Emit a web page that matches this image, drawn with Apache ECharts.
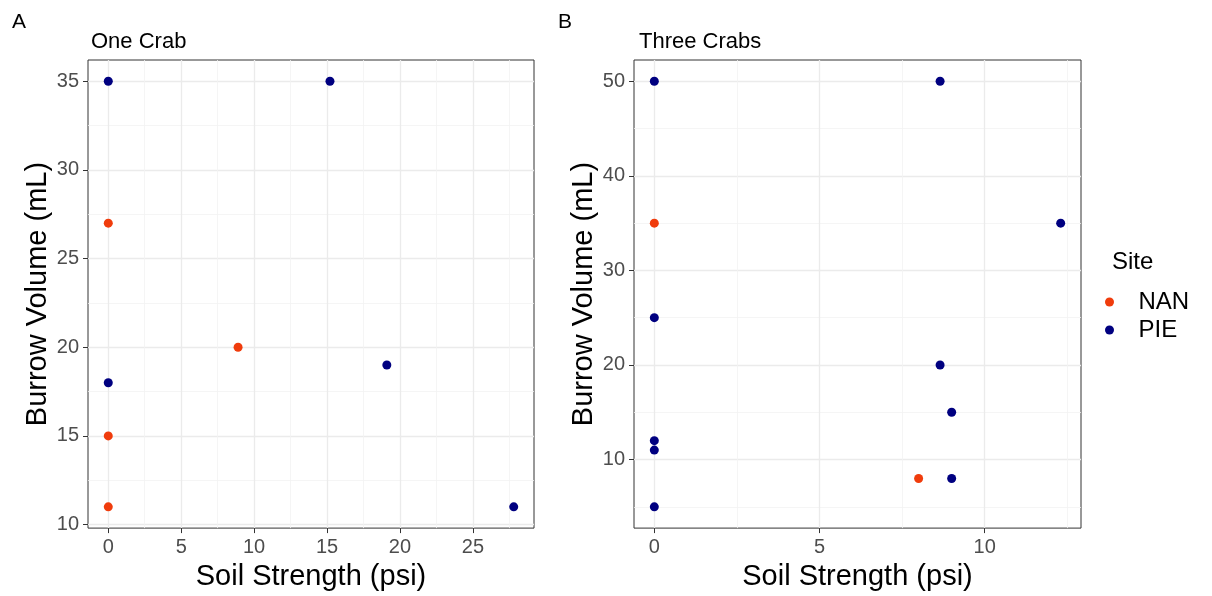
<!DOCTYPE html>
<html lang="en">
<head>
    <meta charset="UTF-8">
    <title>Burrow Volume vs Soil Strength</title>
    <script src="https://cdn.jsdelivr.net/npm/echarts@6.0.0/dist/echarts.min.js"></script>
    <style>
        body {
            margin: 0;
            padding: 0;
            background-color: #ffffff;
        }
        #chart {
            width: 1212px;
            height: 596px;
        }
    </style>
</head>
<body>
<div id="chart"></div>

<script>
    // 数据：One Crab
    const oneNanX = [0, 0, 0, 8.9];
    const oneNanY = [27, 15, 11, 20];
    const onePieX = [0, 15.2, 0, 19.1, 27.8];
    const onePieY = [35, 35, 18, 19, 11];

    // 数据：Three Crabs
    const threeNanX = [0, 8];
    const threeNanY = [35, 8];
    const threePieX = [0, 8.65, 12.3, 0, 8.65, 9, 0, 0, 0, 9];
    const threePieY = [50, 50, 35, 25, 20, 15, 12, 11, 5, 8];

    // 刻度
    const oneXTicks = [0, 5, 10, 15, 20, 25];
    const oneXMinor = [2.5, 7.5, 12.5, 17.5, 22.5, 27.5];
    const oneYTicks = [10, 15, 20, 25, 30, 35];
    const oneYMinor = [12.5, 17.5, 22.5, 27.5, 32.5];
    const threeXTicks = [0, 5, 10];
    const threeXMinor = [2.5, 7.5, 12.5];
    const threeYTicks = [10, 20, 30, 40, 50];
    const threeYMinor = [5, 15, 25, 35, 45];

    const siteNames = ['NAN', 'PIE'];
    const siteColors = ['#f03c0c', '#000080'];

    const FONT = 'Liberation Sans, Arial, sans-serif';

    // ggplot 风格的 5% 扩展
    function expand(values) {
        const lo = Math.min(...values);
        const hi = Math.max(...values);
        const pad = (hi - lo) * 0.05;
        return [lo - pad, hi + pad];
    }

    function zip(xs, ys) {
        return xs.map((x, i) => [x, ys[i]]);
    }

    function majorAxis(grid, range, ticks, name, isY) {
        return {
            type: 'value',
            gridIndex: grid,
            position: isY ? 'left' : 'bottom',
            min: range[0],
            max: range[1],
            name: name,
            nameLocation: 'middle',
            nameGap: isY ? 36 : 33,
            nameTextStyle: { fontSize: 29, color: '#000', fontFamily: FONT },
            axisLine: { show: false, onZero: false },
            axisTick: { show: true, length: 5, customValues: ticks, lineStyle: { color: '#333', width: 1 } },
            axisLabel: { customValues: ticks, fontSize: 20, color: '#4d4d4d', margin: 9, fontFamily: FONT },
            splitLine: { show: true, lineStyle: { color: '#ebebeb', width: 1.3 } }
        };
    }

    function minorAxis(grid, range, ticks, isY) {
        return {
            type: 'value',
            gridIndex: grid,
            position: isY ? 'left' : 'bottom',
            min: range[0],
            max: range[1],
            axisLine: { show: false, onZero: false },
            axisTick: { show: false, customValues: ticks },
            axisLabel: { show: false },
            splitLine: { show: true, lineStyle: { color: '#f2f2f2', width: 0.8 } }
        };
    }

    const oneXRange = expand(oneNanX.concat(onePieX));
    const oneYRange = expand(oneNanY.concat(onePieY));
    const threeXRange = expand(threeNanX.concat(threePieX));
    const threeYRange = expand(threeNanY.concat(threePieY));

    const chart = echarts.init(document.getElementById('chart'));

    const titleStyle = { fontSize: 21, fontWeight: 'normal', color: '#000', fontFamily: FONT };

    const option = {
        backgroundColor: '#ffffff',
        animation: false,
        title: [
            { text: 'A', left: 7, top: 7, textStyle: titleStyle },
            { text: 'One Crab', left: 86, top: 26, textStyle: Object.assign({}, titleStyle, { fontSize: 22 }) },
            { text: 'B', left: 553, top: 7, textStyle: titleStyle },
            { text: 'Three Crabs', left: 634, top: 26, textStyle: Object.assign({}, titleStyle, { fontSize: 22 }) },
            { text: 'Site', left: 1107, top: 245, textStyle: Object.assign({}, titleStyle, { fontSize: 24 }) }
        ],
        legend: {
            data: siteNames,
            orient: 'vertical',
            left: 1100,
            top: 285,
            icon: 'circle',
            itemWidth: 48,
            itemHeight: 9,
            itemGap: 4,
            textStyle: { fontSize: 24, color: '#000', fontFamily: FONT }
        },
        grid: [
            { left: 88, top: 60, width: 446, height: 470, show: true, borderColor: '#333', borderWidth: 1, backgroundColor: 'transparent' },
            { left: 634, top: 60, width: 447, height: 470, show: true, borderColor: '#333', borderWidth: 1, backgroundColor: 'transparent' }
        ],
        xAxis: [
            majorAxis(0, oneXRange, oneXTicks, 'Soil Strength (psi)', false),
            majorAxis(1, threeXRange, threeXTicks, 'Soil Strength (psi)', false),
            minorAxis(0, oneXRange, oneXMinor, false),
            minorAxis(1, threeXRange, threeXMinor, false)
        ],
        yAxis: [
            majorAxis(0, oneYRange, oneYTicks, 'Burrow Volume (mL)', true),
            majorAxis(1, threeYRange, threeYTicks, 'Burrow Volume (mL)', true),
            minorAxis(0, oneYRange, oneYMinor, true),
            minorAxis(1, threeYRange, threeYMinor, true)
        ],
        series: [
            { name: 'NAN', type: 'scatter', xAxisIndex: 0, yAxisIndex: 0, data: zip(oneNanX, oneNanY) },
            { name: 'PIE', type: 'scatter', xAxisIndex: 0, yAxisIndex: 0, data: zip(onePieX, onePieY) },
            { name: 'NAN', type: 'scatter', xAxisIndex: 1, yAxisIndex: 1, data: zip(threeNanX, threeNanY) },
            { name: 'PIE', type: 'scatter', xAxisIndex: 1, yAxisIndex: 1, data: zip(threePieX, threePieY) }
        ].map(s => Object.assign(s, {
            symbol: 'circle',
            symbolSize: 9,
            itemStyle: { color: siteColors[siteNames.indexOf(s.name)], opacity: 1 },
            emphasis: { disabled: true }
        }))
    };

    chart.setOption(option);
</script>
</body>
</html>
